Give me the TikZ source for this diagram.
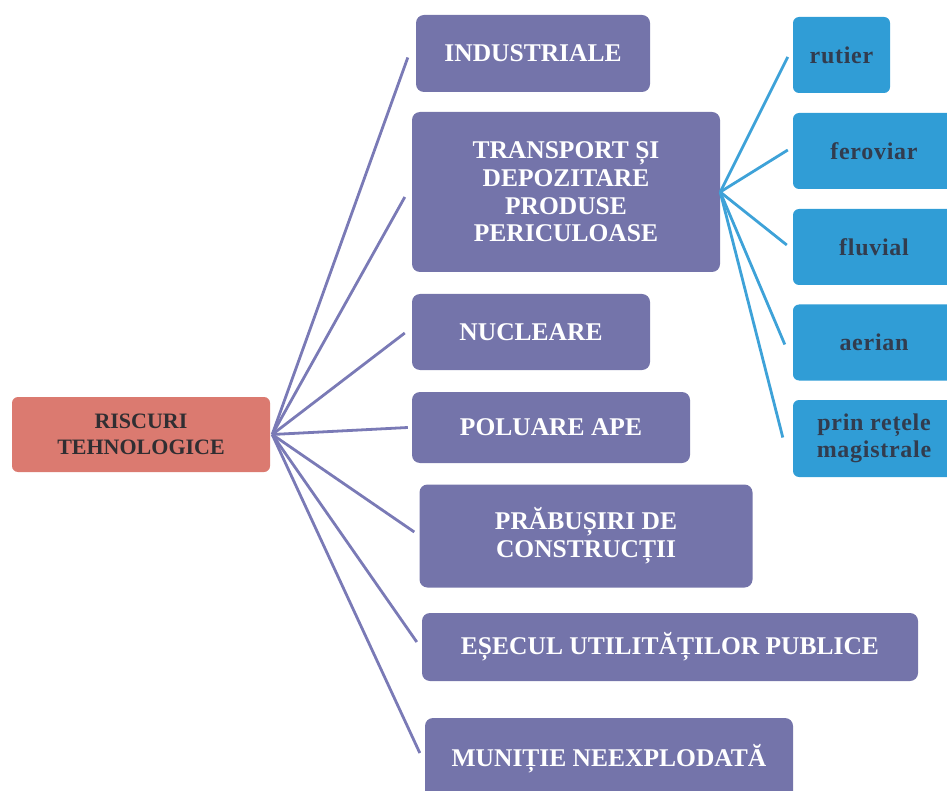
\documentclass[tikz,border=0pt]{standalone}
\usepackage{fontspec}
\setmainfont{Liberation Serif}
\newfontfamily\spacedserif[LetterSpace=3]{Liberation Serif}
\usetikzlibrary{calc}
\definecolor{boxpurple}{RGB}{116,116,170}
\definecolor{boxblue}{RGB}{48,157,214}
\definecolor{boxsalmon}{RGB}{219,122,112}
\definecolor{linkpurple}{RGB}{122,122,182}
\definecolor{linkblue}{RGB}{62,162,216}
\definecolor{darktext}{RGB}{48,46,50}
\definecolor{bluetext}{RGB}{50,60,78}
\begin{document}
\begin{tikzpicture}[x=1pt,y=-1pt,
  rootbox/.style={fill=boxsalmon, rounded corners=6pt, text=darktext, align=center, inner sep=0pt,
    font=\fontsize{22}{26}\selectfont\bfseries},
  catbox/.style={fill=boxpurple, rounded corners=8pt, text=white, align=center, inner sep=0pt,
    font=\fontsize{25.5}{27.7}\selectfont\bfseries},
  subbox/.style={fill=boxblue, rounded corners=6pt, text=bluetext, align=center, inner sep=0pt,
    font=\fontsize{24}{27}\spacedserif\bfseries},
  plink/.style={draw=linkpurple, line width=2.8pt},
  blink/.style={draw=linkblue, line width=2.8pt}]
\useasboundingbox (0,0) rectangle (947,791);

% root
\node[rootbox, minimum width=258pt, minimum height=75pt] (root) at (141,434.5) {RISCURI\\TEHNOLOGICE};

% categories
\node[catbox, minimum width=234pt, minimum height=77pt]  (ind) at (533,53.5)  {INDUSTRIALE};
\node[catbox, minimum width=308pt, minimum height=160pt] (tra) at (566,192)   {TRANSPORT ȘI\\DEPOZITARE\\PRODUSE\\PERICULOASE};
\node[catbox, minimum width=238pt, minimum height=76pt]  (nuc) at (531,332)   {NUCLEARE};
\node[catbox, minimum width=278pt, minimum height=71pt]  (pol) at (551,427.5) {POLUARE APE};
\node[catbox, minimum width=333pt, minimum height=103pt] (pra) at (586,536)   {PRĂBUȘIRI DE\\CONSTRUCȚII};
\node[catbox, minimum width=496pt, minimum height=68pt]  (ese) at (670,647)   {EȘECUL UTILITĂȚILOR PUBLICE};
\node[catbox, minimum width=368pt, minimum height=82pt]  (mun) at (609,759)   {MUNIȚIE NEEXPLODATĂ};

% transport modes
\node[subbox, minimum width=97pt,  minimum height=76pt] (rut) at (841.5,55)  {rutier};
\node[subbox, minimum width=162pt, minimum height=76pt] (fer) at (874,151)   {feroviar};
\node[subbox, minimum width=162pt, minimum height=76pt] (flu) at (874,247)   {fluvial};
\node[subbox, minimum width=162pt, minimum height=76pt] (aer) at (874,342.5) {aerian};
\node[subbox, minimum width=162pt, minimum height=77pt] (pri) at (874,438.5) {prin rețele\\magistrale};

% connectors from the root
\draw[plink] ($(root.east)+(2,0)$) -- ($(ind.west)+(-8,4)$);
\draw[plink] ($(root.east)+(2,0)$) -- ($(tra.west)+(-7,5)$);
\draw[plink] ($(root.east)+(2,0)$) -- ($(nuc.west)+(-7,1)$);
\draw[plink] ($(root.east)+(2,0)$) -- ($(pol.west)+(-4,0)$);
\draw[plink] ($(root.east)+(2,0)$) -- ($(pra.west)+(-5,-4)$);
\draw[plink] ($(root.east)+(2,0)$) -- ($(ese.west)+(-5,-5)$);
\draw[plink] ($(root.east)+(2,0)$) -- ($(mun.west)+(-5,-6)$);

% connectors to the transport modes
\draw[blink] (tra.east) -- ($(rut.west)+(-5,2)$);
\draw[blink] (tra.east) -- ($(fer.west)+(-5,-1)$);
\draw[blink] (tra.east) -- ($(flu.west)+(-6,-2)$);
\draw[blink] (tra.east) -- ($(aer.west)+(-8,2)$);
\draw[blink] (tra.east) -- ($(pri.west)+(-10,-1)$);
\end{tikzpicture}
\end{document}
